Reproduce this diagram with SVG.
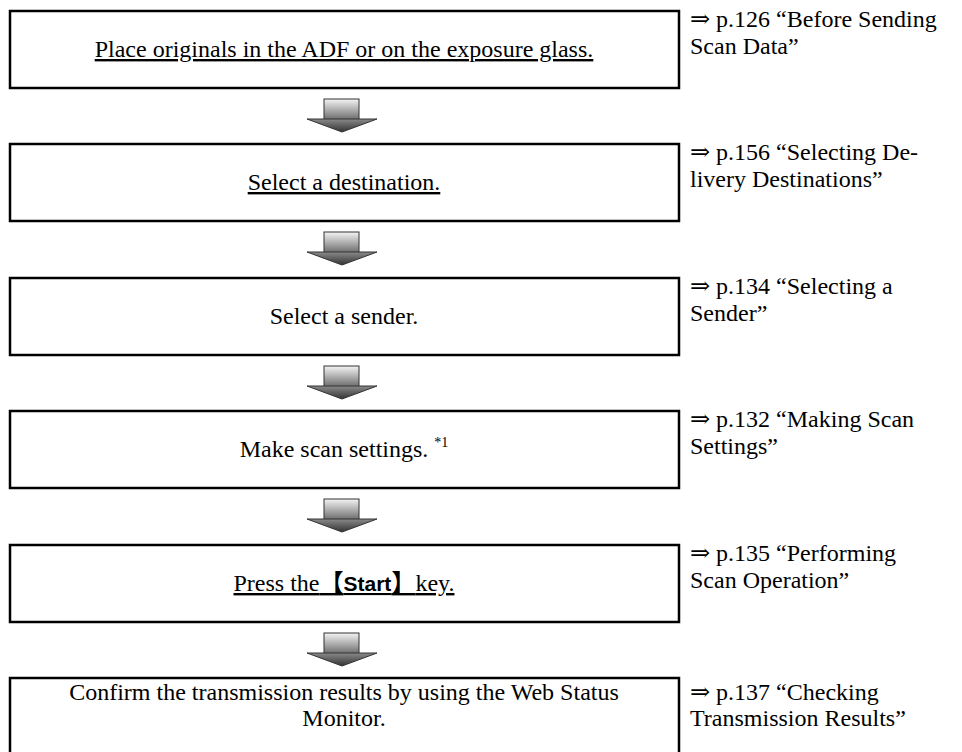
<svg xmlns="http://www.w3.org/2000/svg" width="962" height="752" viewBox="0 0 962 752">
<style>
.box{fill:#fff;stroke:#000;stroke-width:2.5}
.t{font-family:"Liberation Serif","DejaVu Serif",serif;font-size:24px;fill:#000}
.c{text-anchor:middle}
.u{text-decoration:underline}
.arr{stroke:#333;stroke-width:1}
</style>
<defs>
<linearGradient id="gs" x1="0" y1="0" x2="0" y2="1">
<stop offset="0" stop-color="#f4f4f4"/><stop offset="1" stop-color="#6a6a6a"/>
</linearGradient>
<linearGradient id="gh" x1="0" y1="0" x2="0" y2="1">
<stop offset="0" stop-color="#8a8a8a"/><stop offset="1" stop-color="#333"/>
</linearGradient>
<g id="arrow">
<rect x="324" y="0" width="35" height="21" fill="url(#gs)" class="arr"/>
<polygon points="307,20 377,20 342,33" fill="url(#gh)" class="arr"/>
</g>
</defs>
<rect width="962" height="752" fill="#fff"/>
<g id="connectors">
<use href="#arrow" y="99"/>
<use href="#arrow" y="232"/>
<use href="#arrow" y="366"/>
<use href="#arrow" y="499"/>
<use href="#arrow" y="633"/>
</g>
<g id="n1">
<rect class="box" x="10" y="11" width="669" height="77"/>
<text class="t c u" x="344" y="57">Place originals in the ADF or on the exposure glass.</text>
<text class="t" x="690" y="27">⇒ p.126 “Before Sending</text>
<text class="t" x="690" y="54">Scan Data”</text>
</g>
<g id="n2">
<rect class="box" x="10" y="144" width="669" height="77"/>
<text class="t c u" x="344" y="190">Select a destination.</text>
<text class="t" x="690" y="160">⇒ p.156 “Selecting De-</text>
<text class="t" x="690" y="187">livery Destinations”</text>
</g>
<g id="n3">
<rect class="box" x="10" y="278" width="669" height="77"/>
<text class="t c" x="344" y="324">Select a sender.</text>
<text class="t" x="690" y="294">⇒ p.134 “Selecting a</text>
<text class="t" x="690" y="321">Sender”</text>
</g>
<g id="n4">
<rect class="box" x="10" y="411" width="669" height="77"/>
<text class="t c" x="344" y="457">Make scan settings. <tspan font-size="14" dy="-10">*1</tspan></text>
<text class="t" x="690" y="427">⇒ p.132 “Making Scan</text>
<text class="t" x="690" y="454">Settings”</text>
</g>
<g id="n5">
<rect class="box" x="10" y="545" width="669" height="77"/>
<text class="t c u" x="344" y="591">Press the<tspan font-family="'Noto Sans CJK JP',sans-serif" font-weight="bold">【</tspan><tspan font-family="'Liberation Sans',sans-serif" font-weight="bold" font-size="21">Start</tspan><tspan font-family="'Noto Sans CJK JP',sans-serif" font-weight="bold">】</tspan>key.</text>
<text class="t" x="690" y="561">⇒ p.135 “Performing</text>
<text class="t" x="690" y="588">Scan Operation”</text>
</g>
<g id="n6">
<rect class="box" x="10" y="678" width="669" height="80"/>
<text class="t c" x="344" y="700">Confirm the transmission results by using the Web Status</text>
<text class="t c" x="344" y="726">Monitor.</text>
<text class="t" x="690" y="700">⇒ p.137 “Checking</text>
<text class="t" x="690" y="726">Transmission Results”</text>
</g>
</svg>
